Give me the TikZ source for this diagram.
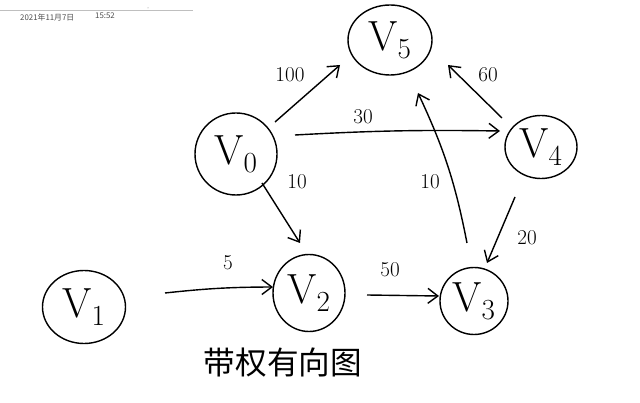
\documentclass[tikz,border=0pt]{standalone}
\usepackage{fontspec}
\newfontfamily\cjk{Noto Sans CJK SC}
\usetikzlibrary{arrows.meta,shapes.geometric,positioning,calc}
\tikzset{
    vertex/.style={draw, ellipse, line width=1.2pt, inner sep=0pt, font=\fontsize{36}{36}\selectfont},
    link/.style={-{Straight Barb[length=3mm, width=4.5mm]}, line width=1.2pt},
    weight/.style={font=\fontsize{18}{18}\selectfont},
    stamp/.style={font=\cjk\fontsize{6.7}{6.7}\selectfont, text=black!70, anchor=west, inner sep=0pt}
}

\begin{document}
\begin{tikzpicture}[x=0.03cm, y=-0.03cm]
            \useasboundingbox (0,0) rectangle (640,403);
            \draw[black!25, line width=0.6pt] (0,10) -- (193,10);
            \fill[black!50] (148,8) circle (0.5);
            \node[stamp] (date) at (20,18) {2021年11月7日};
            \node[stamp] (time) at (95,16) {15:52};

            \node[vertex, minimum width=2.46cm, minimum height=2.46cm] (v0) at (236,154) {$\mathrm{V}_0$};
            \node[vertex, minimum width=2.49cm, minimum height=2.19cm] (v1) at (84,307) {$\mathrm{V}_1$};
            \node[vertex, minimum width=2.16cm, minimum height=2.31cm] (v2) at (309,293) {$\mathrm{V}_2$};
            \node[vertex, minimum width=2.04cm, minimum height=2.01cm] (v3) at (474,301) {$\mathrm{V}_3$};
            \node[vertex, minimum width=2.16cm, minimum height=1.89cm] (v4) at (541,147) {$\mathrm{V}_4$};
            \node[vertex, minimum width=2.52cm, minimum height=2.10cm] (v5) at (390,40) {$\mathrm{V}_5$};

            \draw[link] ($(v0)+(39,-32)$) -- ($(v5)+(-50,25)$);
            \draw[link] ($(v0)+(59,-19)$) to[bend left=2] ($(v4)+(-41,-16)$);
            \draw[link] ($(v0)+(26,29)$) -- ($(v2)+(-9,-50)$);
            \draw[link] ($(v1)+(81,-14)$) to[bend left=3] ($(v2)+(-36,-6)$);
            \draw[link] ($(v2)+(58,2)$) -- ($(v3)+(-35,-5)$);
            \draw[link] ($(v3)+(-7,-58)$) to[bend right=7] ($(v5)+(28,53)$);
            \draw[link] ($(v4)+(-39,-29)$) -- ($(v5)+(58,25)$);
            \draw[link] ($(v4)+(-26,50)$) -- ($(v3)+(13,-38)$);

            \node[weight] (w05) at (290,75) {100};
            \node[weight] (w04) at (363,117) {30};
            \node[weight] (w02) at (297,182) {10};
            \node[weight] (w35) at (430,182) {10};
            \node[weight] (w45) at (488,75) {60};
            \node[weight] (w43) at (527,238) {20};
            \node[weight] (w12) at (228,263) {5};
            \node[weight] (w23) at (390,270) {50};

            \node[font=\cjk\fontsize{27}{27}\selectfont] (title) at (283,363) {带权有向图};
        \end{tikzpicture}
\end{document}
